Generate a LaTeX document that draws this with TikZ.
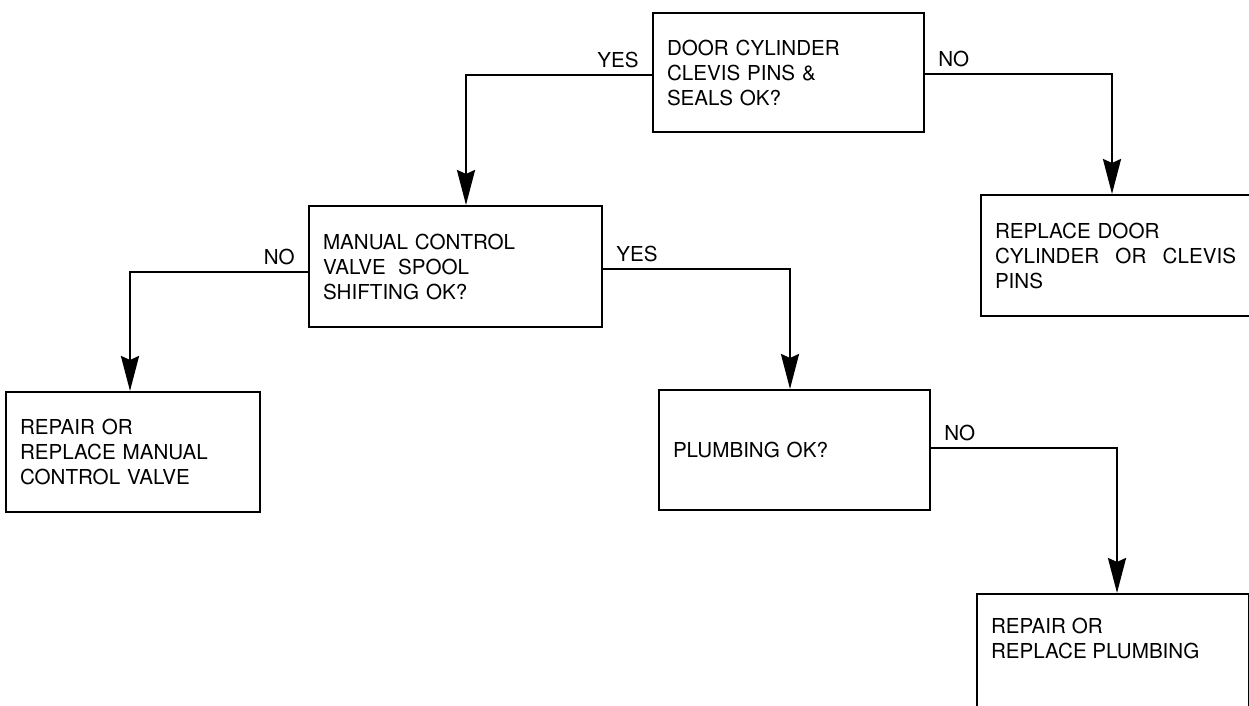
\documentclass[tikz,border=0pt]{standalone}
\usepackage{fontspec}
\setmainfont{TeX Gyre Heros}
\usetikzlibrary{arrows.meta, positioning}
\tikzset{
    box/.style={draw, line width=1pt, align=left, inner xsep=7pt, inner ysep=0pt,
        minimum height=60pt, font=\fontsize{10.3}{12.5}\selectfont},
    lbl/.style={inner xsep=6pt, inner ysep=3pt, font=\fontsize{10.3}{12.5}\selectfont},
    arrow/.style={-{Stealth[length=17.5pt, width=9pt, inset=2pt]}, line width=1.3pt}
}

\begin{document}
\begin{tikzpicture}[x=0.5pt, y=-0.5pt]
        \useasboundingbox (0,0) rectangle (1249,706);
        \node [box, anchor=north west, text width=121.5pt, minimum height=59.5pt] (cyl) at (652,12)
            {DOOR CYLINDER\\CLEVIS PINS \&\\SEALS OK?};
        \node [box, below right=30.5pt and 27.5pt of cyl.south east, text width=120.5pt, minimum height=60.5pt] (repcyl)
            {REPLACE DOOR\\CYLINDER\hfill OR\hfill CLEVIS\\PINS};
        \node [box, below left=36pt and 24.5pt of cyl.south west, text width=132.5pt, minimum height=60.5pt] (valve)
            {MANUAL CONTROL\\VALVE\hspace{0.6em}SPOOL\\SHIFTING OK?};
        \node [box, below left=31.5pt and 23.5pt of valve.south west, text width=113pt] (repvalve)
            {REPAIR OR\\REPLACE MANUAL\\CONTROL VALVE};
        \node [box, below right=30.5pt and 27.5pt of valve.south east, text width=121.5pt] (plumb)
            {PLUMBING OK?};
        \node [box, below right=41pt and 22.5pt of plumb.south east, inner ysep=12pt] (repplumb)
            {\parbox[t][80pt][t]{122pt}{REPAIR OR\\REPLACE PLUMBING}};
        \draw [arrow] ([yshift=-1.25pt]cyl.west) node [lbl, above left] {YES} -| ([xshift=5.25pt]valve.north);
        \draw [arrow] ([yshift=-0.75pt]cyl.east) node [lbl, above right] {NO} -| ([xshift=-1.75pt]repcyl.north);
        \draw [arrow] ([yshift=-2.75pt]valve.west) node [lbl, above left] {NO} -| ([xshift=-1.5pt]repvalve.north);
        \draw [arrow] ([yshift=-1.25pt]valve.east) node [lbl, above right] {YES} -| ([xshift=-2.25pt]plumb.north);
        \draw [arrow] ([yshift=1pt]plumb.east) node [lbl, above right] {NO} -| ([xshift=2pt]repplumb.north);
    \end{tikzpicture}
\end{document}
